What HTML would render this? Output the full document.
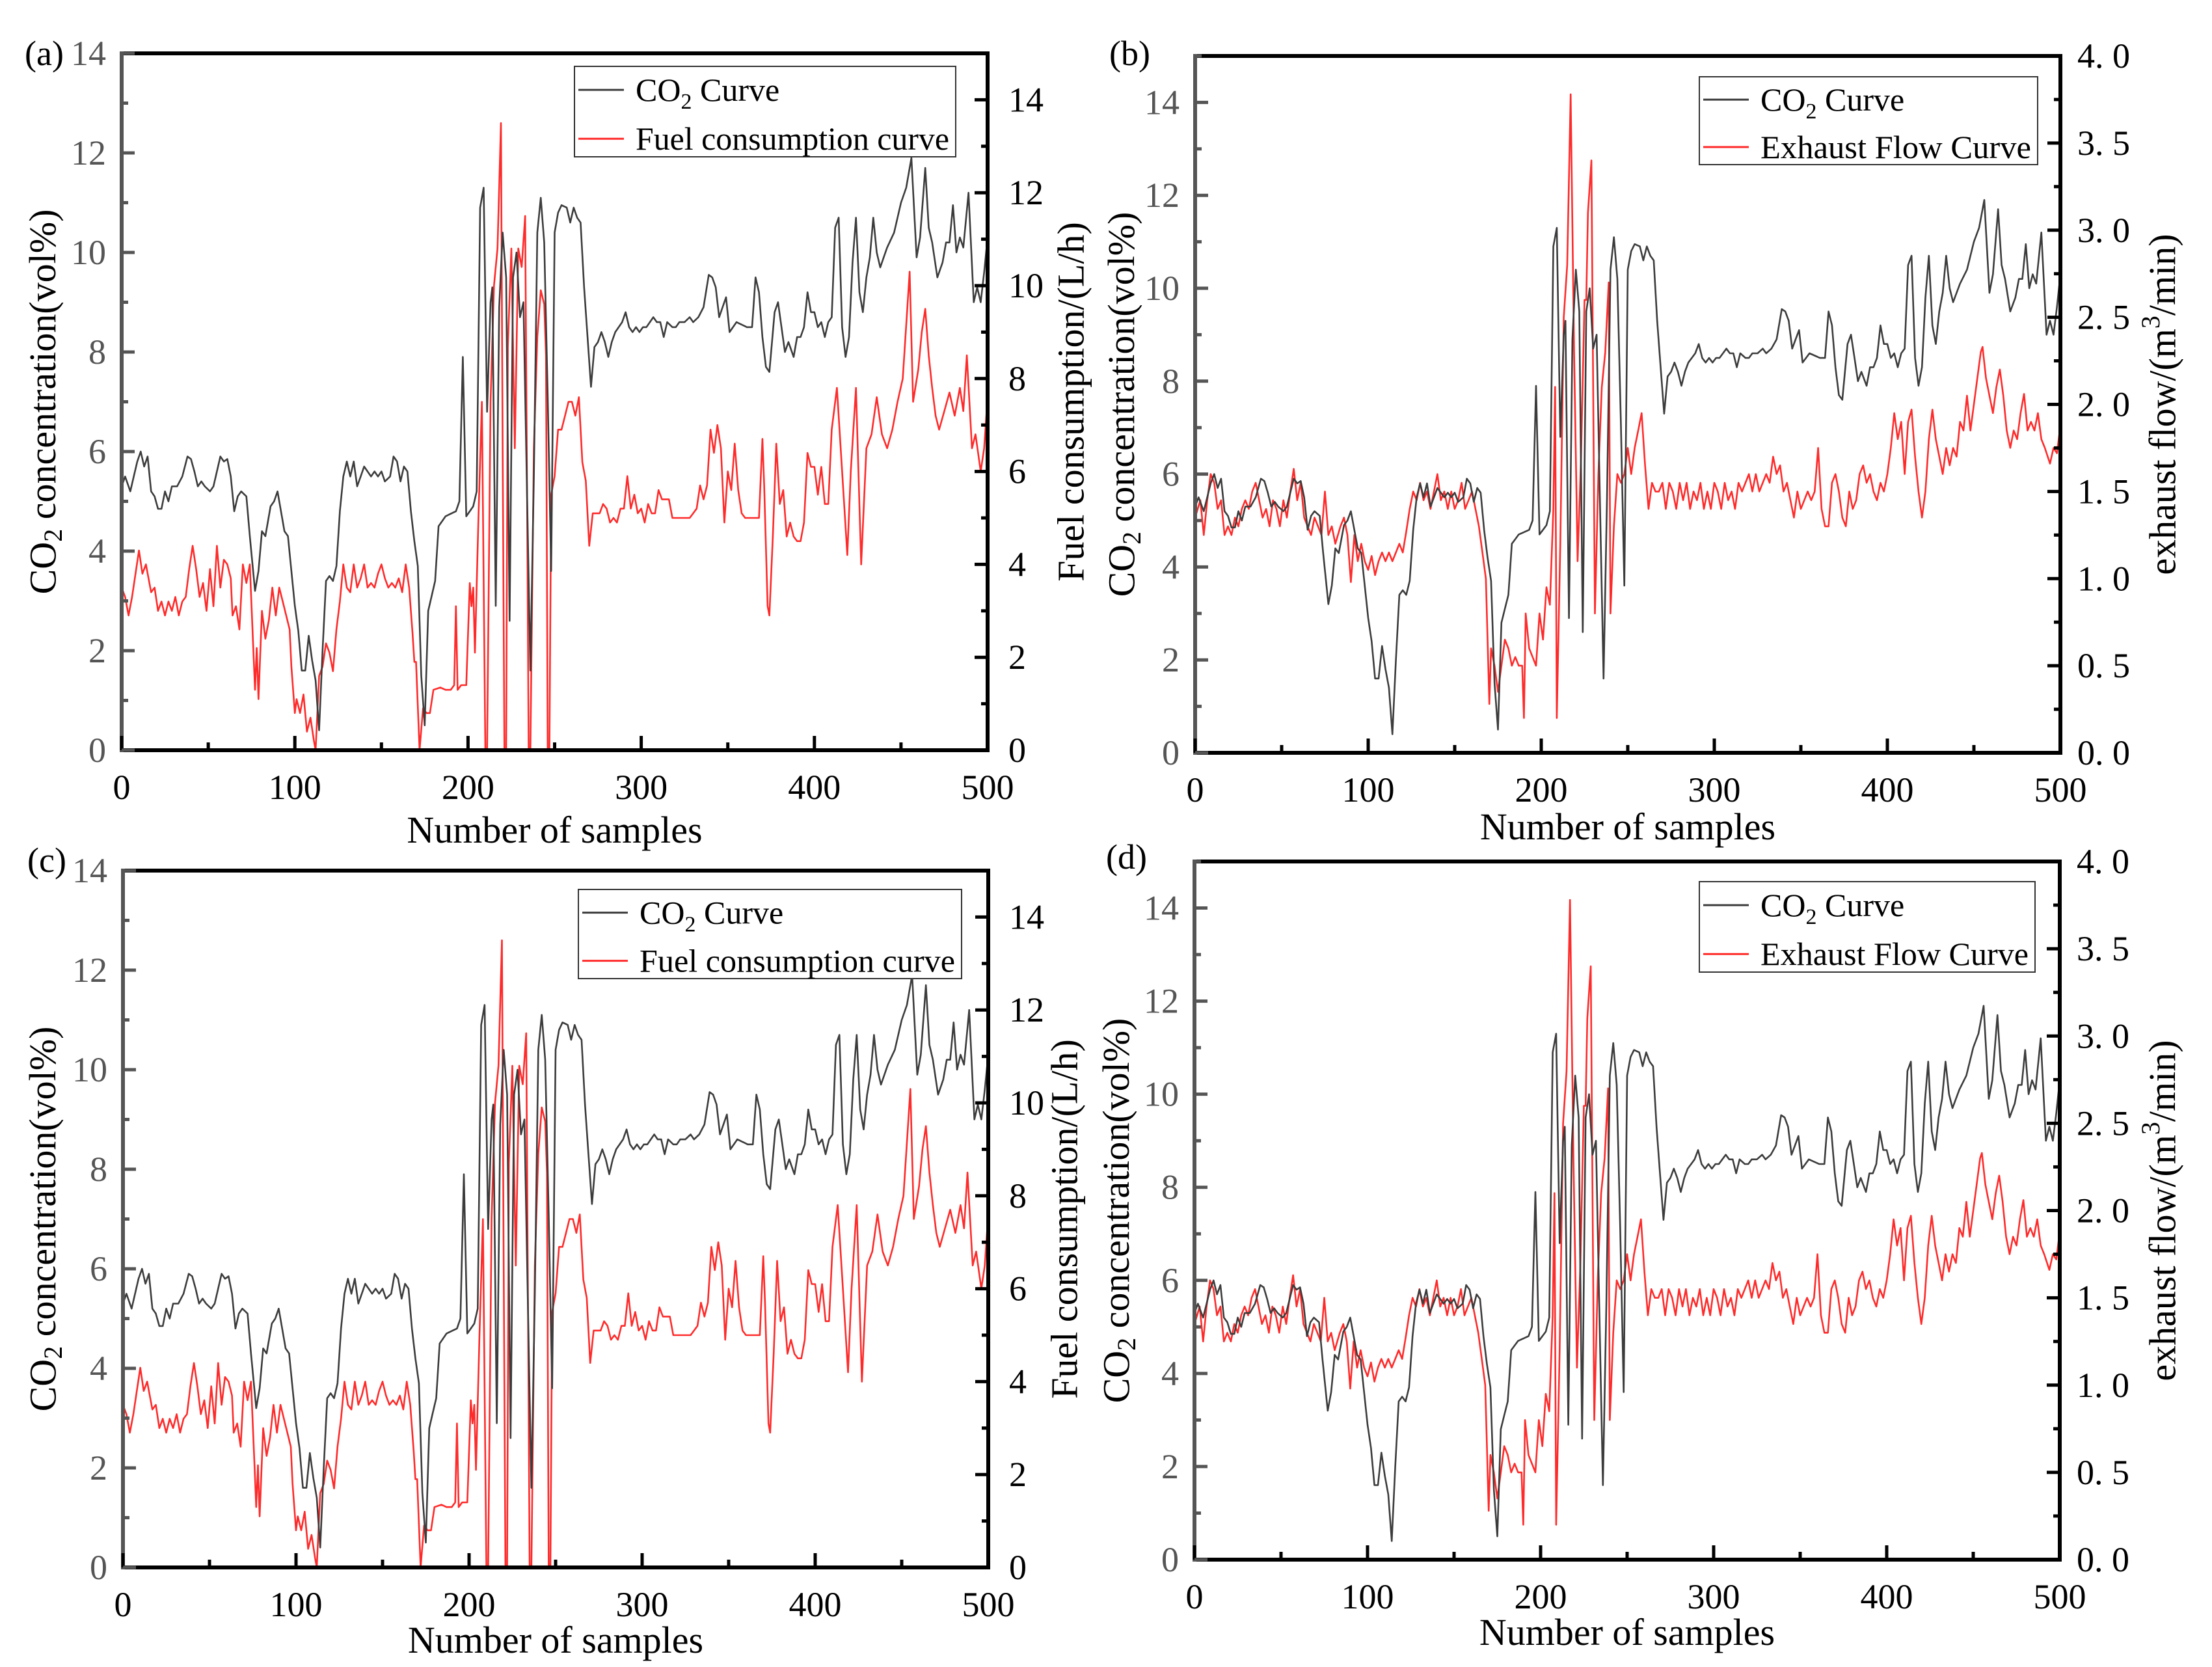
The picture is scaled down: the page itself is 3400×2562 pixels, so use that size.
<!DOCTYPE html>
<html><head><meta charset="utf-8"><title>CO2 vs fuel and exhaust flow</title>
<style>html,body{margin:0;padding:0;background:#fff}svg{display:block}text{font-family:"Liberation Serif",serif}</style>
</head><body>
<svg id="fig" width="3400" height="2562" viewBox="0 0 3400 2562" xmlns="http://www.w3.org/2000/svg"></svg>
<script>
const xTicks = [0,100,200,300,400,500];
const leftTicks = [0,2,4,6,8,10,12,14];
const fuelTicks = [0,2,4,6,8,10,12,14];
const flowTicks = [0,0.5,1,1.5,2,2.5,3,3.5,4];
const flowTickLabels = ["0. 0","0. 5","1. 0","1. 5","2. 0","2. 5","3. 0","3. 5","4. 0"];

const co2Samples = [0,2,4,5,7,9,11,13,15,17,19,21,23,25,27,29,32,35,38,40,42,44,46,48,51,53,55,57,59,61,63,65,67,69,72,74,77,79,81,83,86,88,90,92,94,96,98,100,102,104,106,108,110,112,114,116,118,120,122,124,126,128,130,132,134,136,138,140,142,144,146,148,150,152,155,157,159,161,163,165,167,169,171,173,175,177,179,181,183,185,187,190,193,195,197,199,201,203,205,207,209,211,213,214,216,218,220,222,224,226,228,230,232,234,236,238,240,242,244,246,248,250,252,254,257,259,261,263,265,267,269,271,273,275,277,279,281,283,285,287,289,291,293,295,297,299,301,303,305,307,309,311,313,315,318,320,322,325,328,330,333,336,339,341,343,345,347,349,351,353,355,358,361,364,366,368,370,372,374,377,379,381,383,385,388,390,392,394,396,398,400,402,404,406,408,410,412,414,416,418,420,422,424,426,428,430,432,434,436,438,440,442,446,450,453,456,459,461,464,466,468,471,474,476,478,480,482,484,486,489,492,494,496,498,500];
const co2Values = [5.3,5.5,5.3,5.2,5.5,5.8,6.0,5.7,5.9,5.2,5.1,4.85,4.85,5.2,5.0,5.3,5.3,5.5,5.9,5.85,5.6,5.3,5.4,5.3,5.2,5.3,5.6,5.9,5.8,5.85,5.5,4.8,5.1,5.2,5.1,4.3,3.2,3.6,4.4,4.3,4.9,5.0,5.2,4.8,4.4,4.3,3.6,2.9,2.4,1.6,1.6,2.3,1.8,1.4,0.4,2.0,3.4,3.5,3.4,3.7,4.8,5.5,5.8,5.5,5.8,5.3,5.5,5.7,5.6,5.5,5.6,5.5,5.6,5.4,5.5,5.9,5.8,5.4,5.7,5.6,4.8,4.2,3.7,1.5,0.5,2.8,3.1,3.4,4.5,4.6,4.7,4.75,4.8,5.0,7.9,4.7,4.8,4.9,5.2,10.9,11.3,6.8,9.0,9.3,2.9,8.9,10.4,9.5,2.6,9.5,10.0,8.7,9.0,5.3,1.6,5.5,10.4,11.1,10.2,7.1,3.6,10.4,10.8,10.95,10.9,10.6,10.9,10.7,10.6,9.3,8.3,7.3,8.1,8.2,8.4,8.2,7.9,8.2,8.4,8.5,8.6,8.8,8.5,8.4,8.5,8.4,8.5,8.5,8.6,8.7,8.6,8.6,8.3,8.6,8.5,8.5,8.6,8.6,8.7,8.6,8.7,8.9,9.55,9.5,9.3,8.7,8.9,9.1,8.4,8.5,8.6,8.55,8.5,8.5,9.5,9.2,8.3,7.7,7.6,8.8,9.0,8.5,8.0,8.2,7.9,8.3,8.3,8.5,9.2,8.8,8.8,8.5,8.6,8.3,8.6,8.7,10.5,10.7,8.5,7.9,8.3,9.8,10.7,9.2,8.8,9.5,9.9,10.7,10.0,9.7,9.9,10.1,10.4,11.0,11.3,11.9,9.9,10.3,11.7,10.5,10.2,9.5,9.8,10.2,10.2,10.95,10.0,10.3,10.1,11.2,9.0,9.3,9.0,9.6,10.3];

const fuelSamples = [0,2,4,6,8,10,12,14,17,19,21,23,25,27,29,31,33,35,37,39,41,43,45,47,49,51,53,55,57,59,61,63,64,66,68,70,72,74,76,77,78,79,81,83,85,87,89,91,93,95,97,98,100,101,103,105,107,109,111,112,114,116,118,120,122,124,126,128,130,132,134,136,138,140,142,144,146,148,150,152,154,156,158,160,162,164,166,168,169,170,172,174,176,178,180,184,187,190,192,193,194,196,199,201,202,203,204,206,208,210,211,213,215,217,219,220,221,222,223,225,227,229,231,233,234,235,236,238,240,242,244,245,246,247,248,250,252,254,256,258,260,262,264,266,268,270,272,274,276,278,280,282,284,286,288,290,292,294,296,298,300,302,304,306,308,310,312,314,316,318,320,322,325,328,330,332,334,336,338,340,342,344,346,348,350,352,354,356,358,360,363,366,368,370,371,373,374,376,378,380,382,384,386,388,390,392,394,396,398,400,402,404,406,408,410,413,416,419,421,424,427,430,433,436,439,442,445,448,451,455,457,460,462,464,466,468,470,472,475,478,481,484,486,488,491,493,496,498,500];
const fuelValues = [3.5,3.3,2.9,3.3,3.8,4.3,3.8,4.0,3.4,3.5,3.0,3.2,2.9,3.2,3.0,3.3,2.9,3.2,3.3,3.9,4.4,3.9,3.3,3.6,3.0,3.9,3.1,4.4,3.5,4.1,4.0,3.7,2.9,3.1,2.6,4.0,3.6,4.0,2.2,1.3,2.2,1.1,3.0,2.4,2.8,3.5,2.9,3.5,3.2,2.9,2.6,1.8,0.8,1.1,0.8,1.2,0.4,0.7,0.2,0,1.6,1.8,2.3,2.1,1.7,2.6,3.2,4.0,3.5,3.4,4.0,3.5,3.7,4.0,3.5,3.6,3.5,3.8,4.0,3.7,3.5,3.6,3.5,3.7,3.4,4.0,3.5,2.5,1.9,1.9,0,0.9,0.8,0.8,1.3,1.35,1.3,1.3,1.4,3.1,1.3,1.4,1.4,3.6,3.1,3.5,2.1,5.0,7.5,0,0,7.5,10,10.8,13.5,6.5,0,0,8.7,10.8,6.5,10.8,10.4,11.5,6.0,0,0,6.5,8.9,9.9,9.6,8.5,0,0,5.5,5.9,6.9,6.9,7.2,7.5,7.5,7.2,7.6,6.2,5.8,4.4,5.1,5.1,5.1,5.3,5.2,4.9,5.0,4.9,5.2,5.2,5.9,5.2,5.5,5.1,5.2,4.9,5.3,5.1,5.1,5.6,5.4,5.4,5.4,5.0,5.0,5.0,5.0,5.0,5.1,5.2,5.7,5.4,5.7,6.9,6.4,7.0,6.5,4.9,6.0,5.6,6.6,5.6,5.1,5.0,5.0,5.0,5.0,6.7,5.7,3.1,2.9,4.6,6.6,5.3,5.6,4.6,4.9,4.6,4.5,4.5,4.9,6.4,6.1,6.1,5.5,6.1,5.3,5.3,6.9,7.8,6.0,4.2,6.0,7.8,4.0,6.5,6.8,7.6,6.8,6.5,6.9,7.5,8.0,10.3,7.5,8.2,9.0,9.5,8.5,7.8,7.2,6.9,7.3,7.7,7.2,7.8,7.3,8.5,6.5,6.8,6.0,6.5,7.6];

const flowSamples = [0,3,5,7,9,11,13,15,17,19,21,23,25,27,29,31,33,35,37,39,41,43,45,47,49,51,53,55,57,59,61,63,65,67,69,71,73,75,77,79,81,84,86,88,90,92,94,96,98,100,102,104,106,108,110,112,114,116,118,120,122,124,126,128,130,132,134,136,138,140,142,144,146,148,150,152,154,156,158,160,162,164,166,168,169,170,171,173,175,177,179,181,183,185,187,189,190,191,193,195,197,199,201,203,205,207,208,209,211,213,215,217,219,221,223,225,226,227,229,231,233,235,237,239,240,242,244,246,248,250,252,254,256,258,260,262,264,266,268,270,272,274,276,278,280,282,284,286,288,290,292,294,296,298,300,302,304,306,308,310,312,314,316,318,320,322,324,326,328,330,332,334,336,338,340,342,344,346,348,350,352,354,356,358,360,362,364,366,368,370,372,374,376,378,380,382,384,386,388,390,392,394,396,398,400,402,404,406,408,410,412,414,416,418,420,422,424,426,428,430,432,434,436,438,440,442,444,446,448,450,452,454,455,457,459,461,463,465,467,469,471,473,475,477,479,481,483,485,487,489,491,494,496,498,500];
const flowValues = [1.35,1.45,1.25,1.45,1.6,1.55,1.4,1.45,1.25,1.3,1.25,1.35,1.3,1.4,1.45,1.4,1.5,1.55,1.45,1.35,1.4,1.3,1.45,1.4,1.3,1.45,1.35,1.5,1.63,1.45,1.55,1.35,1.3,1.25,1.35,1.3,1.25,1.5,1.25,1.3,1.2,1.3,1.35,1.25,0.98,1.25,1.1,1.2,1.1,1.05,1.13,1.02,1.1,1.15,1.1,1.15,1.1,1.15,1.2,1.15,1.27,1.4,1.5,1.45,1.55,1.45,1.5,1.4,1.5,1.6,1.45,1.5,1.4,1.5,1.4,1.45,1.55,1.4,1.45,1.5,1.4,1.3,1.15,1.0,0.65,0.28,0.6,0.5,0.35,0.5,0.65,0.6,0.5,0.55,0.5,0.5,0.2,0.8,0.6,0.55,0.5,0.8,0.65,0.95,0.85,1.4,2.1,0.2,1.2,2.5,2.8,3.78,2.3,1.1,1.7,2.6,2.6,3.1,3.4,0.8,1.6,2.1,2.3,2.7,0.8,1.3,1.6,1.55,1.6,1.75,1.6,1.75,1.85,1.95,1.65,1.4,1.55,1.5,1.5,1.55,1.4,1.55,1.5,1.4,1.55,1.45,1.55,1.4,1.5,1.45,1.55,1.4,1.5,1.4,1.55,1.5,1.4,1.55,1.45,1.5,1.4,1.55,1.5,1.55,1.6,1.5,1.6,1.5,1.55,1.6,1.55,1.7,1.6,1.65,1.5,1.55,1.45,1.35,1.5,1.4,1.45,1.5,1.45,1.5,1.75,1.4,1.3,1.3,1.55,1.6,1.5,1.35,1.3,1.5,1.4,1.45,1.6,1.65,1.55,1.6,1.5,1.45,1.55,1.5,1.6,1.75,1.95,1.8,1.9,1.6,1.9,1.97,1.7,1.5,1.35,1.5,1.8,1.97,1.8,1.7,1.6,1.75,1.65,1.75,1.7,1.9,1.85,2.05,1.85,2.0,2.15,2.3,2.33,2.15,2.05,1.95,2.1,2.2,2.05,1.85,1.75,1.85,1.8,1.95,2.06,1.85,1.9,1.85,1.95,1.8,1.75,1.66,1.75,1.72,1.88];

const NS = "http://www.w3.org/2000/svg";
const svg = document.getElementById('fig');
function mk(tag, attrs, parent) {
  const e = document.createElementNS(NS, tag);
  for (const k in attrs) e.setAttribute(k, attrs[k]);
  (parent || svg).appendChild(e);
  return e;
}

const panels = [
  {id:'a', L:187, R:1518, T:82, B:1153, leftMax:14, rightMax:15, right:'fuel', labelPos:[38,100], xLblY:1228, xTitleY:1295, legend:[883,102,586,139], legendText:'Fuel consumption curve', rTitleX:1652, lTitleX:72},
  {id:'b', L:1837, R:3167, T:86, B:1157, leftMax:15, rightMax:4, right:'flow', labelPos:[1705,100], xLblY:1232, xTitleY:1290, legend:[2612,118,520,135], legendText:'Exhaust Flow Curve', rTitleX:3330, lTitleX:1730},
  {id:'c', L:189, R:1519, T:1338, B:2409, leftMax:14, rightMax:15, right:'fuel', labelPos:[42,1340], xLblY:2484, xTitleY:2540, legend:[889,1367,589,137], legendText:'Fuel consumption curve', rTitleX:1642, lTitleX:72},
  {id:'d', L:1836, R:3166, T:1324, B:2397, leftMax:15, rightMax:4, right:'flow', labelPos:[1700,1335], xLblY:2472, xTitleY:2528, legend:[2612,1355,516,139], legendText:'Exhaust Flow Curve', rTitleX:3330, lTitleX:1722}
];

panels.forEach(p => {
  const g = mk('g', {});
  
  
  const xs = v => p.L + (v / 500) * (p.R - p.L);
  const yl = v => p.B - (v / p.leftMax) * (p.B - p.T);
  const yr = v => p.B - (v / p.rightMax) * (p.B - p.T);

  const path = (sx, sy, yf, color, name) => {
    let d = '';
    for (let i = 0; i < sx.length; i++) d += (i ? 'L' : 'M') + xs(sx[i]).toFixed(1) + ' ' + yf(sy[i]).toFixed(1);
    const e = mk('path', {d: d, fill: 'none', stroke: color, 'stroke-width': 2.6, 'stroke-linejoin': 'round'}, g);
    
    
  };
  if (p.right === 'fuel') path(fuelSamples, fuelValues, yr, '#ff2a2a', 'fuel-consumption-line');
  else path(flowSamples, flowValues, yr, '#ff2a2a', 'exhaust-flow-line');
  path(co2Samples, co2Values, yl, '#3c3c3c', 'co2-line');

  const ax = (x1,y1,x2,y2,c,name) => { const e = mk('line',{x1,y1,x2,y2,stroke:c,'stroke-width':6},g);   };
  ax(p.L, p.T, p.R+3, p.T, '#000', 'top-axis');
  ax(p.R, p.T-3, p.R, p.B+3, '#000', 'right-axis');
  ax(p.L-3, p.B, p.R+3, p.B, '#000', 'x-axis');
  ax(p.L, p.T-3, p.L, p.B+3, '#555', 'left-axis');

  for (let v = 0; v <= 500; v += 50) {
    const major = v % 100 === 0;
    mk('line', {x1: xs(v), y1: p.B, x2: xs(v), y2: p.B - (major ? 22 : 12), stroke: '#000', 'stroke-width': 5}, g);
  }
  xTicks.forEach(v => {
    const t = mk('text', {x: xs(v), y: p.xLblY, 'font-size': 54, 'text-anchor': 'middle', fill: '#000'}, g);
    t.textContent = v;
    
    
  });
  for (let v = 0; v <= p.leftMax; v += 1) {
    const major = v % 2 === 0;
    mk('line', {x1: p.L, y1: yl(v), x2: p.L + (major ? 20 : 10), y2: yl(v), stroke: '#555', 'stroke-width': 5}, g);
  }
  leftTicks.forEach(v => {
    const t = mk('text', {x: p.L - 24, y: yl(v) + 18, 'font-size': 54, 'text-anchor': 'end', fill: '#555'}, g);
    t.textContent = v;
    
    
  });
  if (p.right === 'fuel') {
    for (let v = 0; v <= 15; v += 1) {
      const major = v % 2 === 0;
      mk('line', {x1: p.R, y1: yr(v), x2: p.R - (major ? 20 : 10), y2: yr(v), stroke: '#000', 'stroke-width': 5}, g);
    }
    fuelTicks.forEach(v => {
      const t = mk('text', {x: p.R + 32, y: yr(v) + 18, 'font-size': 54, fill: '#000'}, g);
      t.textContent = v;
      
      
    });
  } else {
    for (let v = 0; v <= 4.001; v += 0.25) {
      const major = Math.abs(v * 2 - Math.round(v * 2)) < 1e-6;
      mk('line', {x1: p.R, y1: yr(v), x2: p.R - (major ? 20 : 10), y2: yr(v), stroke: '#000', 'stroke-width': 5}, g);
    }
    flowTicks.forEach((v, i) => {
      const t = mk('text', {x: p.R + 26, y: yr(v) + 18, 'font-size': 54, fill: '#000'}, g);
      t.textContent = flowTickLabels[i];
      
      
    });
  }

  const cy = (p.T + p.B) / 2;
  const lt = mk('text', {x: p.lTitleX, y: cy, 'font-size': 58, 'text-anchor': 'middle', fill: '#000', transform: `rotate(-90 ${p.lTitleX} ${cy})`, 'dominant-baseline': 'middle'}, g);
  
  
  lt.innerHTML = 'CO<tspan font-size="40" dy="14">2</tspan><tspan dy="-14"> concentration(vol%)</tspan>';
  const rt = mk('text', {x: p.rTitleX, y: cy, 'font-size': 58, 'text-anchor': 'middle', fill: '#000', transform: `rotate(-90 ${p.rTitleX} ${cy})`, 'dominant-baseline': 'middle'}, g);
  
  
  if (p.right === 'fuel') rt.textContent = 'Fuel consumption/(L/h)';
  else rt.innerHTML = 'exhaust flow/(m<tspan font-size="40" dy="-20">3</tspan><tspan dy="20">/min)</tspan>';
  const xt = mk('text', {x: (p.L + p.R) / 2, y: p.xTitleY, 'font-size': 58, 'text-anchor': 'middle', fill: '#000'}, g);
  xt.textContent = 'Number of samples';
  
  
  const pl = mk('text', {x: p.labelPos[0], y: p.labelPos[1], 'font-size': 54, fill: '#000'}, g);
  pl.textContent = '(' + p.id + ')';
  
  

  const [lx, ly, lw, lh] = p.legend;
  const lg = mk('g', {}, g);
  
  
  mk('rect', {x: lx, y: ly, width: lw, height: lh, fill: '#fff', stroke: '#333', 'stroke-width': 2}, lg);
  const r1 = ly + lh * 0.26, r2 = ly + lh * 0.8;
  mk('line', {x1: lx + 6, y1: r1, x2: lx + 76, y2: r1, stroke: '#3c3c3c', 'stroke-width': 3}, lg);
  mk('line', {x1: lx + 6, y1: r2, x2: lx + 76, y2: r2, stroke: '#ff2a2a', 'stroke-width': 3}, lg);
  const e1 = mk('text', {x: lx + 94, y: r1 + 17, 'font-size': 50, fill: '#000'}, lg);
  e1.innerHTML = 'CO<tspan font-size="34" dy="12">2</tspan><tspan dy="-12"> Curve</tspan>';
  
  
  const e2 = mk('text', {x: lx + 94, y: r2 + 17, 'font-size': 50, fill: '#000', textLength: lw - 104, lengthAdjust: 'spacingAndGlyphs'}, lg);
  e2.textContent = p.legendText;
  
  
});
</script>
</body></html>
